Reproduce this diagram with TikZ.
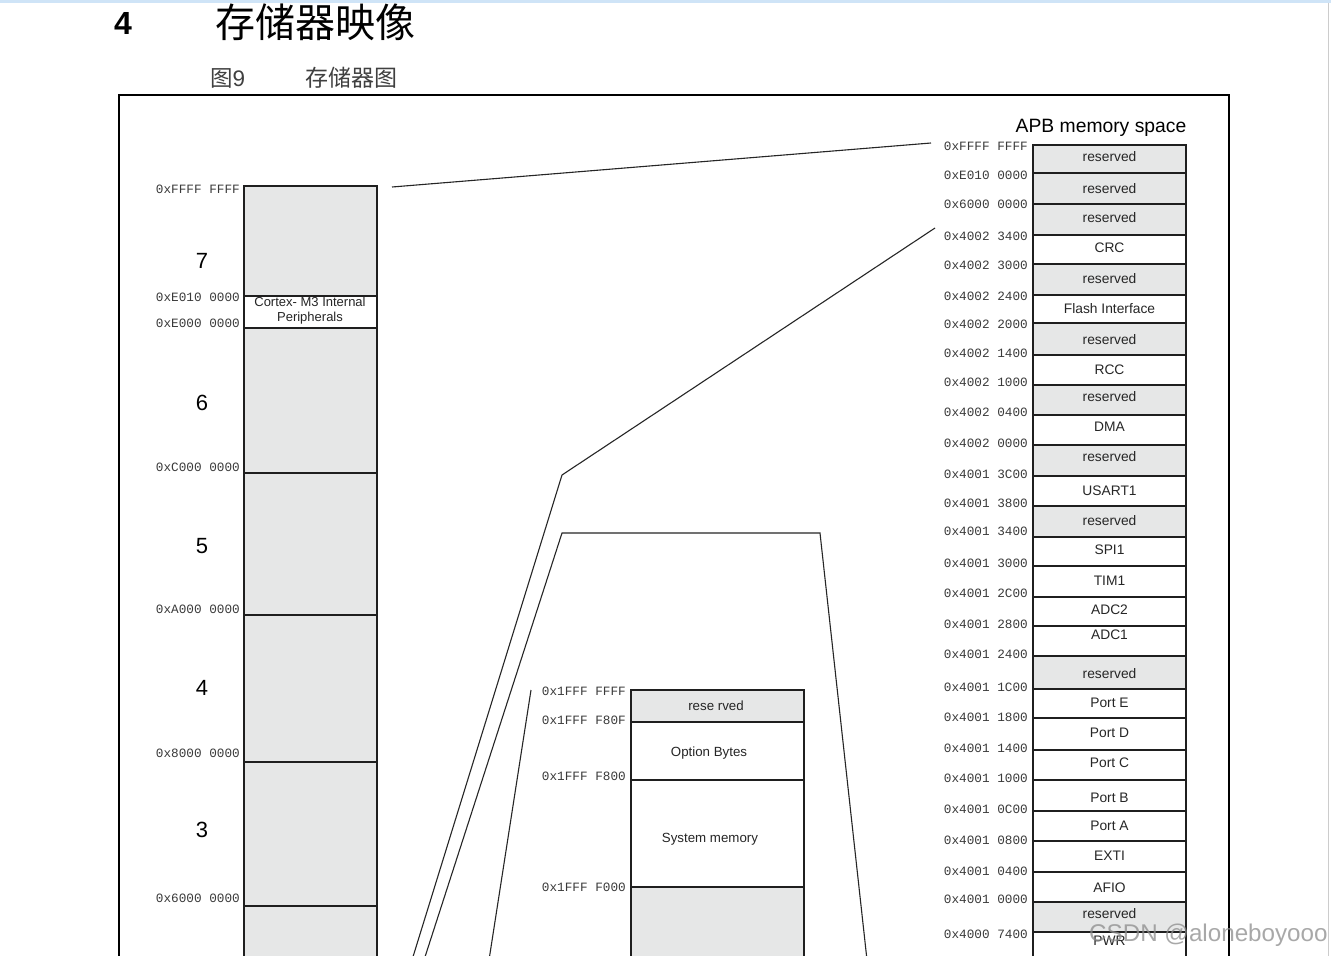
\documentclass[tikz,border=0pt]{standalone}
\usepackage{fontspec}
\setmainfont{Liberation Sans}
\setmonofont{Liberation Mono}
\newfontfamily\cjk{Noto Sans CJK SC}
\definecolor{memgray}{HTML}{E6E7E7}
\definecolor{addr}{HTML}{3A3A3A}
\definecolor{topblue}{HTML}{CFE4F7}
\definecolor{capgray}{HTML}{404040}
\begin{document}
\begin{tikzpicture}[x=1pt,y=-1pt,
  addrlbl/.style={anchor=east, inner sep=0pt, font=\fontsize{12.7}{14}\ttfamily, text=addr},
  celltxt/.style={inner sep=0pt, font=\fontsize{13.8}{15}\selectfont, text=black!85},
  regnum/.style={inner sep=0pt, font=\fontsize{22}{24}\selectfont},
  sep/.style={line width=2.4pt, draw=black!88},
  thinsep/.style={line width=1.8pt, draw=black!88},
  zoomline/.style={line width=1.1pt, draw=black!85},
  frameline/.style={line width=1.4pt, draw=black}]
\useasboundingbox (0,0) rectangle (1331,956);
\clip (0,0) rectangle (1331,956);
\fill[white] (0,0) rectangle (1331,956);
\fill[topblue] (0,0) rectangle (1331,2.5);
\draw[black!20, line width=1pt] (1328,2.5) -- (1328,956);

% heading
\node[anchor=west, inner sep=0pt, font=\fontsize{32}{34}\selectfont\bfseries] (secnum) at (114,23) {4};
\node[anchor=west, inner sep=0pt, font=\cjk\fontsize{40}{42}\selectfont] (title) at (215,22) {存储器映像};
\node[anchor=west, inner sep=0pt, text=capgray, font=\fontsize{22.5}{24}\selectfont] (fignum) at (210,78) {{\cjk 图}9};
\node[anchor=west, inner sep=0pt, text=capgray, font=\cjk\fontsize{23}{25}\selectfont] (figname) at (305,78) {存储器图};

% frame
\coordinate (fbl) at (119,960);
\coordinate (ftl) at (119,95);
\coordinate (ftr) at (1229,95);
\coordinate (fbr) at (1229,960);
\draw[frameline] (fbl) -- (ftl) -- (ftr) -- (fbr);

% ---------- left column ----------
\foreach \t/\b/\f in {186/296/memgray,296/328/white,328/473/memgray,473/615/memgray,615/762/memgray,762/906/memgray,906/960/memgray}{
  \fill[\f] (244,\t) rectangle (377,\b);
}
\foreach \t in {186,473,615,762,906}{
  \draw[thinsep] (244,\t) -- (377,\t);
}
\draw[thinsep] (244,296) -- (377,296);
\draw[thinsep] (244,328) -- (377,328);
\draw[line width=2pt, draw=black!88] (244,185) -- (244,960);
\draw[line width=2.8pt, draw=black!88] (377,185) -- (377,960);
\node[celltxt, align=center, font=\fontsize{13}{15}\selectfont] (cortex) at (310,311) {Cortex- M3 Internal\\Peripherals};
\node[regnum] (n7) at (202,261) {7};
\node[regnum] (n6) at (202,403) {6};
\node[regnum] (n5) at (202,546) {5};
\node[regnum] (n4) at (202,688) {4};
\node[regnum] (n3) at (202,830) {3};
\foreach \y/\l in {189/0xFFFF FFFF,297/0xE010 0000,323/0xE000 0000,467/0xC000 0000,609/0xA000 0000,753/0x8000 0000,898/0x6000 0000}{
  \node[addrlbl] (la\y) at (240,\y) {\l};
}

% ---------- middle block ----------
\foreach \t/\b/\f in {690/722/memgray,722/780/white,780/887/white,887/960/memgray}{
  \fill[\f] (631,\t) rectangle (804,\b);
}
\draw[thinsep] (631,690) -- (804,690);
\draw[thinsep] (631,722) -- (804,722);
\draw[sep] (631,780) -- (804,780);
\draw[thinsep] (631,887) -- (804,887);
\draw[line width=1.8pt, draw=black!88] (631,689) -- (631,960);
\draw[line width=1.8pt, draw=black!88] (804,689) -- (804,960);
\node[celltxt, font=\fontsize{13.3}{15}\selectfont] (mres) at (716,706) {rese rved};
\node[celltxt, font=\fontsize{13.3}{15}\selectfont] (mopt) at (709,753) {Option Bytes};
\node[celltxt, font=\fontsize{13.3}{15}\selectfont] (msys) at (710,839) {System memory};
\foreach \y/\l in {691/0x1FFF FFFF,720/0x1FFF F80F,776/0x1FFF F800,887/0x1FFF F000}{
  \node[addrlbl] (ma\y) at (626,\y) {\l};
}

% ---------- right column (APB) ----------
\node[inner sep=0pt, font=\fontsize{19.3}{21}\selectfont] (apb) at (1101,128) {APB memory space};
\foreach \t/\b/\f/\l/\y in {145/173/memgray/reserved/157,173/204/memgray/reserved/189,204/235/memgray/reserved/218,
  235/264/white/CRC/248,264/295/memgray/reserved/279,295/323/white/Flash Interface/309,
  323/355/memgray/reserved/340,355/385/white/RCC/370,385/415/memgray/reserved/397,
  415/445/white/DMA/427,445/476/memgray/reserved/457,476/506/white/USART1/491,
  506/537/memgray/reserved/521,537/566/white/SPI1/550,566/597/white/TIM1/581,
  597/626/white/ADC2/610,626/656/white/ADC1/635,656/689/memgray/reserved/674,
  689/718/white/Port E/703,718/750/white/Port D/733,750/780/white/Port C/763,
  780/811/white/Port B/798,811/841/white/Port A/826,841/872/white/EXTI/856,
  872/902/white/AFIO/888,902/932/memgray/reserved/914,932/960/white/PWR/941}{
  \fill[\f] (1033,\t) rectangle (1186,\b);
  \node[celltxt] (rc\t) at (1109.5,\y) {\l};
}
\foreach \t in {145,173,204,235,264,295,323,355,385,415,445,476,506,537,566,597,626,656,689,718,750,780,811,841,872,902,932}{
  \draw[sep] (1033,\t) -- (1186,\t);
}
\draw[line width=2.6pt, draw=black!88] (1033,144) -- (1033,960);
\draw[line width=2.6pt, draw=black!88] (1186,144) -- (1186,960);
\foreach \y/\l in {146/0xFFFF FFFF,175/0xE010 0000,204/0x6000 0000,236/0x4002 3400,265/0x4002 3000,
  296/0x4002 2400,324/0x4002 2000,353/0x4002 1400,382/0x4002 1000,412/0x4002 0400,443/0x4002 0000,
  474/0x4001 3C00,503/0x4001 3800,531/0x4001 3400,563/0x4001 3000,593/0x4001 2C00,624/0x4001 2800,
  654/0x4001 2400,687/0x4001 1C00,717/0x4001 1800,748/0x4001 1400,778/0x4001 1000,809/0x4001 0C00,
  840/0x4001 0800,871/0x4001 0400,899/0x4001 0000,934/0x4000 7400}{
  \node[addrlbl] (ra\y) at (1028,\y) {\l};
}

% ---------- zoom connectors ----------
\coordinate (a1) at (392,187);
\coordinate (a2) at (931,143);
\draw[zoomline] (a1) -- (a2);
\coordinate (b1) at (935,228);
\coordinate (b2) at (562,475);
\coordinate (b3) at (412,960);
\draw[zoomline] (b1) -- (b2) -- (b3);
\coordinate (c1) at (424,960);
\coordinate (c2) at (562,533);
\coordinate (c3) at (820,533);
\coordinate (c4) at (867,960);
\draw[zoomline] (c1) -- (c2) -- (c3) -- (c4);
\coordinate (d1) at (531,690);
\coordinate (d2) at (489,960);
\draw[zoomline] (d1) -- (d2);

% watermark
\node[anchor=west, inner sep=0pt, text=black!45, opacity=0.75, font=\fontsize{24.2}{26}\selectfont] (wm) at (1089,935) {CSDN @aloneboyooo};
\end{tikzpicture}
\end{document}
